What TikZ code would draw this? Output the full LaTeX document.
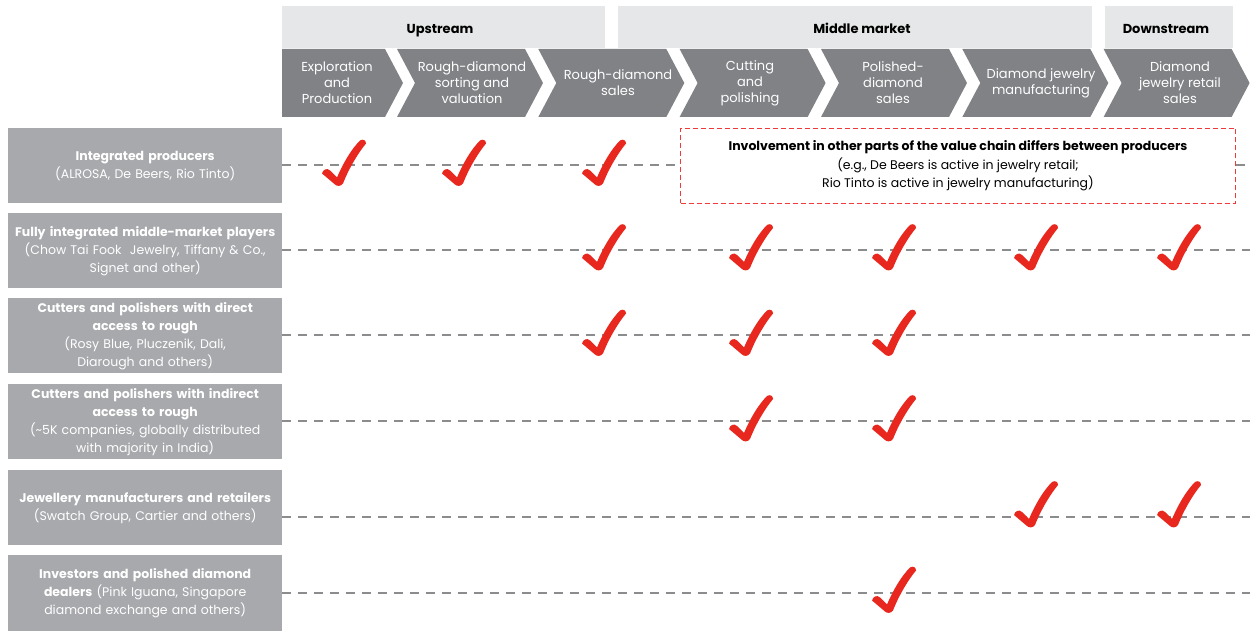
\documentclass[tikz,border=0pt]{standalone}
\usepackage{fontspec}
\setmainfont{Poppins}
\definecolor{hdrgray}{HTML}{E6E7E8}
\definecolor{chevgray}{HTML}{808285}
\definecolor{boxgray}{HTML}{A7A9AC}
\definecolor{linegray}{HTML}{8A8C8E}
\definecolor{chkred}{HTML}{E8281E}
\definecolor{notered}{HTML}{EE3A3A}
\begin{document}
\begin{tikzpicture}[x=1pt,y=-1pt,
  hdr/.style={fill=hdrgray, inner sep=0pt, anchor=north west, minimum height=42pt},
  hdrtxt/.style={anchor=base, inner sep=0pt, font=\bfseries\fontsize{13}{15}\selectfont},
  chev/.style={fill=chevgray},
  chevtxt/.style={text=white, align=center, inner sep=0pt, font=\fontsize{13}{16}\selectfont},
  rowbox/.style={fill=boxgray, text=white, align=center, inner sep=0pt, anchor=north west,
    minimum width=274pt, minimum height=75pt, text width=272pt, font=\fontsize{12.5}{18}\selectfont},
  dl/.style={draw=linegray, line width=1.2pt, dash pattern=on 9pt off 7pt},
  note/.style={draw=notered, line width=1pt, dash pattern=on 5pt off 3pt, align=center,
    minimum width=555pt, minimum height=75pt, inner sep=0pt, anchor=north west,
    font=\fontsize{12.5}{18.5}\selectfont},
  chk/.pic={\fill[chkred] (-16,-12) .. controls (-15,-16) and (-11,-18) .. (-8,-15)
      -- (-1,-8) .. controls (5,-22) and (13,-36) .. (22,-45)
      .. controls (25,-47) and (28,-45) .. (28,-42)
      .. controls (19,-31) and (10,-15) .. (5,-2)
      .. controls (3,1) and (-1,1) .. (-3,-1) -- cycle;}
]
\useasboundingbox (0,0) rectangle (1250,631);

% header bands
\node[hdr, minimum width=323pt] (hup) at (282,6) {};
\node[hdrtxt] (tup) at (440,34) {Upstream};
\node[hdr, minimum width=474pt] (hmid) at (618,6) {};
\node[hdrtxt] (tmid) at (862,34) {Middle market};
\node[hdr, minimum width=128pt] (hdown) at (1105,6) {};
\node[hdrtxt] (tdown) at (1166,34) {Downstream};

% chevrons
\fill[chev] (282,49) -- (385,49) -- (403,83) -- (385,117) -- (282,117) -- cycle;
\foreach \L in {397,538.3,679.6,821,962.3,1103.6}{
  \fill[chev] (\L,49) -- (\L+128,49) -- (\L+146,83) -- (\L+128,117) -- (\L,117) -- (\L+18,83) -- cycle;
}
\node[chevtxt] (c1) at (337,83) {Exploration\\and\\Production};
\node[chevtxt] (c2) at (472,83) {Rough-diamond\\sorting and\\valuation};
\node[chevtxt] (c3) at (618,83) {Rough-diamond\\sales};
\node[chevtxt] (c4) at (750,83) {Cutting\\and\\polishing};
\node[chevtxt] (c5) at (893,83) {Polished-\\diamond\\sales};
\node[chevtxt] (c6) at (1041,83) {Diamond jewelry\\manufacturing};
\node[chevtxt] (c7) at (1180,83) {Diamond\\jewelry retail\\sales};

% row boxes
\node[rowbox] (b1) at (8,128) {\textbf{Integrated producers}\\(ALROSA, De Beers, Rio Tinto)};
\node[rowbox] (b2) at (8,213) {\textbf{Fully integrated middle-market players}\\(Chow Tai Fook\ \ Jewelry, Tiffany \& Co.,\\Signet and other)};
\node[rowbox] (b3) at (8,298) {\textbf{Cutters and polishers with direct}\\\textbf{access to rough}\\(Rosy Blue, Pluczenik, Dali,\\Diarough and others)};
\node[rowbox] (b4) at (8,384) {\textbf{Cutters and polishers with indirect}\\\textbf{access to rough}\\(\textasciitilde5K companies, globally distributed\\with majority in India)};
\node[rowbox] (b5) at (8,470) {\textbf{Jewellery manufacturers and retailers}\\(Swatch Group, Cartier and others)};
\node[rowbox, minimum height=76pt] (b6) at (8,555) {\textbf{Investors and polished diamond}\\\textbf{dealers} (Pink Iguana, Singapore\\diamond exchange and others)};

% note box
\node[note] (nt) at (680,128) {\textbf{Involvement in other parts of the value chain differs between producers}\\(e.g., De Beers is active in jewelry retail;\\Rio Tinto is active in jewelry manufacturing)};

% line end coordinates
\coordinate (e1) at (1250,165);
\coordinate (e2) at (1250,250);
\coordinate (e3) at (1250,335);
\coordinate (e4) at (1250,421);
\coordinate (e5) at (1250,517);
\coordinate (e6) at (1250,593);

\draw[dl] (b1.east |- e1) -- (nt.west |- e1);
\draw[dl] (nt.east |- e1) -- (e1);
\draw[dl] (b2.east |- e2) -- (e2);
\draw[dl] (b3.east |- e3) -- (e3);
\draw[dl] (b4.east |- e4) -- (e4);
\draw[dl] (b5.east |- e5) -- (e5);
\draw[dl] (b6.east |- e6) -- (e6);

% checks
\foreach \x in {338,458,598} \pic at (\x,185.5) {chk};
\foreach \x in {598,745,888,1030,1173} \pic at (\x,270) {chk};
\foreach \x in {598,745,888} \pic at (\x,355.5) {chk};
\foreach \x in {745,888} \pic at (\x,441) {chk};
\foreach \x in {1030,1173} \pic at (\x,527) {chk};
\foreach \x in {888} \pic at (\x,612.5) {chk};
\end{tikzpicture}
\end{document}
